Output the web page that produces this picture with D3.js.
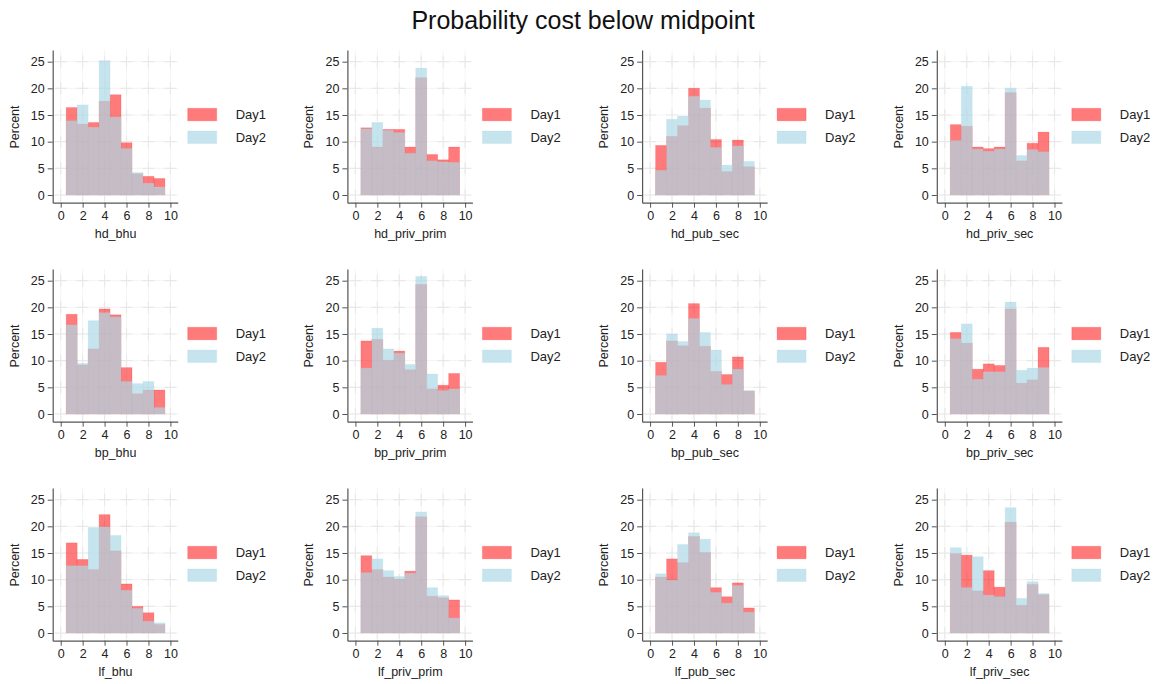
<!DOCTYPE html>
<html><head><meta charset="utf-8">
<script src="https://cdn.jsdelivr.net/npm/d3@7"></script>
<style>body{margin:0;background:#fff;} text{font-family:"Liberation Sans",Arial,sans-serif;}</style>
</head><body>
<svg id="chart" width="1154" height="684"></svg>
<script>
const title = "Probability cost below midpoint";
const variables = ["hd_bhu","hd_priv_prim","hd_pub_sec","hd_priv_sec",
                   "bp_bhu","bp_priv_prim","bp_pub_sec","bp_priv_sec",
                   "lf_bhu","lf_priv_prim","lf_pub_sec","lf_priv_sec"];
const binCenters = [1,2,3,4,5,6,7,8,9];
const seriesNames = ["Day1","Day2"];
const xTicks = [0,2,4,6,8,10];
const yTicks = [0,5,10,15,20,25];

const day1 = [
  [16.4,13.3,13.6,17.6,18.8,9.8,4.0,3.5,3.1],
  [12.6,9.0,12.3,12.3,9.0,22.0,7.6,6.6,9.0],
  [9.3,11.0,13.0,20.0,16.3,10.4,4.4,10.3,5.3],
  [13.2,12.9,9.0,8.7,9.0,19.2,6.4,9.7,11.8],
  [18.7,9.2,12.2,19.7,18.6,8.7,3.8,4.5,4.5],
  [13.7,14.0,10.1,11.8,8.3,24.3,4.7,5.4,7.6],
  [9.7,13.7,12.8,20.7,12.7,8.0,7.4,10.7,4.3],
  [15.3,13.3,8.4,9.4,9.1,19.7,5.8,6.4,12.5],
  [16.9,13.8,11.9,22.2,15.4,9.2,5.0,3.8,1.6],
  [14.5,11.9,10.5,10.1,11.6,21.8,6.9,6.6,6.2],
  [10.5,13.9,13.2,18.1,15.1,8.5,6.8,9.4,4.7],
  [14.9,14.6,7.9,11.7,8.6,20.8,5.2,9.1,7.2]
];
const day2 = [
  [13.9,16.9,12.7,25.2,14.6,8.7,4.2,2.2,1.5],
  [12.4,13.6,12.1,11.7,7.8,23.8,6.4,6.2,6.1],
  [4.6,14.2,14.8,18.5,17.8,8.9,5.6,9.2,6.3],
  [10.2,20.4,8.6,8.2,8.6,20.0,7.4,8.5,8.1],
  [16.7,9.5,17.5,19.0,18.2,6.1,5.7,6.1,1.2],
  [8.6,16.1,12.2,11.4,9.3,25.8,7.5,4.4,4.7],
  [7.2,15.0,13.6,17.9,15.3,12.0,5.5,8.4,4.4],
  [14.1,16.9,6.5,7.9,7.9,21.0,8.2,8.6,8.7],
  [12.6,12.6,19.8,19.9,18.3,8.0,4.6,2.2,1.9],
  [11.3,13.9,11.7,10.6,11.2,22.7,8.5,7.0,2.8],
  [11.1,9.9,16.6,18.8,17.6,7.6,5.6,8.9,3.9],
  [16.0,8.5,14.3,7.1,6.8,23.5,6.5,9.6,7.4]
];

const svg = d3.select("#chart");
svg.append("text").attr("x", 583).attr("y", 29).attr("text-anchor","middle")
  .attr("font-size", 25).attr("fill","#111").text(title);

const fills = [{c:"rgb(255,0,0)", o:0.52}, {c:"rgb(173,216,230)", o:0.7}];
const colStep = 294.7, rowStep = 219;
const axisX0 = 52.7, zeroY0 = 195;
const pxPerX = 10.97, pxPerY = 5.333;

variables.forEach((name, i) => {
  const col = i % 4, row = Math.floor(i / 4);
  const ax = axisX0 + col*colStep;
  const y0 = zeroY0 + row*rowStep;
  const x = d3.scaleLinear().domain([-0.73, 10.67]).range([ax, ax + 11.4*pxPerX]);
  const y = d3.scaleLinear().domain([-1.44, 27.2]).range([y0 + 1.44*pxPerY, y0 - 27.2*pxPerY]);
  const g = svg.append("g");

  // grid
  const [xl, xr] = x.range(), [yb, yt] = y.range();
  yTicks.forEach(t => g.append("line").attr("x1", xl).attr("x2", xr).attr("y1", y(t)).attr("y2", y(t))
    .attr("stroke","#f4f4f4").attr("stroke-width",1));
  xTicks.forEach(t => g.append("line").attr("y1", yb).attr("y2", yt).attr("x1", x(t)).attr("x2", x(t))
    .attr("stroke","#f4f4f4").attr("stroke-width",1));
  xTicks.forEach(tx => yTicks.forEach(ty => {
    g.append("path").attr("d", `M${x(tx)-6},${y(ty)}h12M${x(tx)},${y(ty)-6}v12`)
      .attr("stroke","#e9e9e9").attr("stroke-width",1.2).attr("fill","none");
  }));

  // bars
  [day1[i], day2[i]].forEach((vals, s) => {
    g.selectAll(null).data(binCenters).enter().append("rect")
      .attr("x", d => x(d - 0.5)).attr("width", d => x(d + 0.5) - x(d - 0.5))
      .attr("y", (d, k) => y(vals[k])).attr("height", (d, k) => y(0) - y(vals[k]))
      .attr("fill", fills[s].c).attr("fill-opacity", fills[s].o)
      .attr("stroke", fills[s].c).attr("stroke-opacity", fills[s].o*0.35).attr("stroke-width", 0.8);
  });

  // axes
  const yAxis = d3.axisLeft(y).tickValues(yTicks).tickSize(5).tickSizeOuter(0).tickPadding(3);
  const ya = g.append("g").attr("transform", `translate(${ax},0)`).call(yAxis);
  const xAxis = d3.axisBottom(x).tickValues(xTicks).tickSize(5).tickSizeOuter(0).tickPadding(3);
  const xa = g.append("g").attr("transform", `translate(0,${yb})`).call(xAxis);
  [ya, xa].forEach(a => {
    a.select(".domain").attr("stroke","#555").attr("stroke-width",1.2);
    a.selectAll(".tick line").attr("stroke","#555");
    a.selectAll(".tick text").attr("font-size", 12.5).attr("fill","#222")
      .attr("font-family","Liberation Sans, Arial, sans-serif");
  });

  // axis titles
  g.append("text").attr("x", (x(0)+x(10))/2).attr("y", y0 + 43).attr("text-anchor","middle")
    .attr("font-size", 12.5).attr("fill","#222").text(name);
  g.append("text").attr("transform", `translate(${ax - 34},${y0 - 68}) rotate(-90)`)
    .attr("text-anchor","middle").attr("font-size", 12.5).attr("fill","#222").text("Percent");

  // legend
  seriesNames.forEach((sn, s) => {
    const ly = y0 - 86.7 + s*22.7;
    g.append("rect").attr("x", ax + 135).attr("y", ly).attr("width", 29).attr("height", 12.5)
      .attr("fill", fills[s].c).attr("fill-opacity", fills[s].o)
      .attr("stroke", fills[s].c).attr("stroke-opacity", fills[s].o*0.35);
    g.append("text").attr("x", ax + 183).attr("y", ly + 10.5).attr("font-size", 13)
      .attr("fill","#222").text(sn);
  });
});
</script>
</body></html>
